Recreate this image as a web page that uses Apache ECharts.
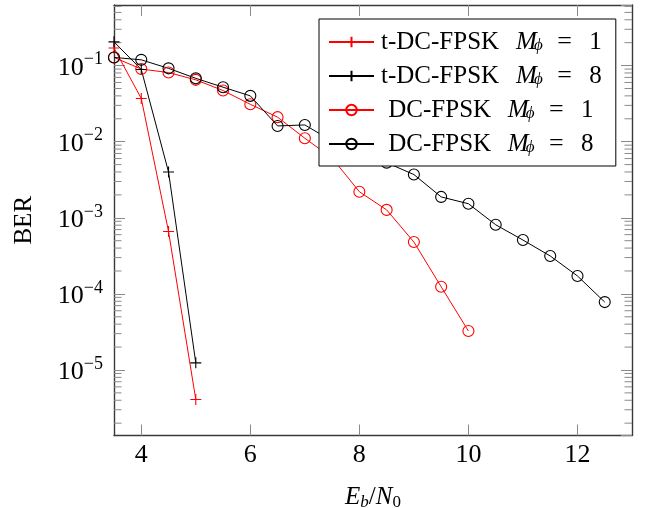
<!DOCTYPE html>
<html>
<head>
<meta charset="utf-8">
<script src="https://cdn.jsdelivr.net/npm/echarts@6/dist/echarts.min.js"></script>
<style>html,body{margin:0;padding:0;background:#fff}#c{width:645px;height:508px}</style>
</head>
<body>
<div id="c"></div>
<script>
// ---- data ----
const tdcX = [3.5, 4, 4.5, 5];
const tdcM1 = [0.17, 0.037, 6.6e-4, 4.1e-6];
const tdcM8 = [0.205, 0.089, 4.0e-3, 1.24e-5];
const dc1X = [3.5, 4, 4.5, 5, 5.5, 6, 6.5, 7, 7.5, 8, 8.5, 9, 9.5, 10];
const dcM1 = [0.128, 0.090, 0.081, 0.065, 0.047, 0.031, 0.021, 0.0111, 6.1e-3, 2.2e-3, 1.27e-3, 4.8e-4, 1.24e-4, 3.25e-5];
const dc8X = [3.5, 4, 4.5, 5, 5.5, 6, 6.5, 7, 7.5, 8, 8.5, 9, 9.5, 10, 10.5, 11, 11.5, 12, 12.5];
const dcM8 = [0.128, 0.119, 0.092, 0.068, 0.052, 0.040, 0.0161, 0.0166, 0.0102, 6.7e-3, 5.3e-3, 3.7e-3, 1.88e-3, 1.53e-3, 8.1e-4, 5.1e-4, 3.15e-4, 1.72e-4, 7.8e-5];
const xTicks = [4, 6, 8, 10, 12];
const xMin = 3.5, xMax = 13;
const yMin = 1.377e-6, yMax = 0.6255;
const decades = [-6, -5, -4, -3, -2, -1];
const minorMult = [2, 3, 4, 5, 6, 7, 8, 9];

const minorVals = [];
decades.forEach(d => minorMult.forEach(m => {
  const v = m * Math.pow(10, d);
  if (v > yMin && v < yMax) minorVals.push(v);
}));

const FONT = 'Liberation Serif';
const frame = '#3a3a3a';
const tickCol = '#8a8a8a';

const zip = (xs, ys) => xs.map((x, i) => [x, ys[i]]);
const plus = 'path://M0,5L10,5M5,0L5,10';

function mkSeries(name, xs, ys, color, isCircle) {
  return {
    name, type: 'line', data: zip(xs, ys),
    symbol: isCircle ? 'circle' : plus,
    symbolSize: 11,
    lineStyle: { color, width: 1 },
    itemStyle: isCircle ? { color: 'rgba(0,0,0,0)', borderColor: color, borderWidth: 1.1 }
                        : { color, borderColor: color, borderWidth: 1.1 },
    emphasis: { disabled: true },
    z: 3
  };
}

const LF = 25;
const legendRich = {
  p: { width: 2 },
  a: { width: 135 },
  dp: { width: 7.3 },
  d: { width: 119.4 },
  m: { fontStyle: 'italic', width: 18 },
  s: { fontStyle: 'italic', fontSize: 17, lineHeight: 12, verticalAlign: 'bottom', width: 23.3 },
  e: { width: 32, fontSize: 26 },
  o: {}
};
const legendText = {
  tdc1: '{p|}{a|t-DC-FPSK}{m|M}{s|ϕ}{e|=}{o|1}',
  tdc8: '{p|}{a|t-DC-FPSK}{m|M}{s|ϕ}{e|=}{o|8}',
  dc1: '{p|}{dp|}{d|DC-FPSK}{m|M}{s|ϕ}{e|=}{o|1}',
  dc8: '{p|}{dp|}{d|DC-FPSK}{m|M}{s|ϕ}{e|=}{o|8}'
};

function yLabel(v) {
  const l = Math.log10(v);
  const r = Math.round(l);
  if (Math.abs(l - r) > 1e-6) return '';
  return '{b|10}{s|−' + Math.abs(r) + '}';
}

const chart = echarts.init(document.getElementById('c'), null, { renderer: 'canvas' });
const axisCommonX = {
  type: 'value', min: xMin, max: xMax,
  axisLine: { show: true, onZero: false, lineStyle: { color: frame, width: 1.4 } },
  axisTick: { show: true, inside: true, length: 11, customValues: xTicks, lineStyle: { color: tickCol, width: 1 } },
  splitLine: { show: false }
};
const axisCommonY = {
  type: 'log', min: yMin, max: yMax, logBase: 10,
  axisLine: { show: true, onZero: false, lineStyle: { color: frame, width: 1.4 } },
  axisTick: { show: true, inside: true, length: 11, lineStyle: { color: tickCol, width: 1 } },
  splitLine: { show: false }
};

chart.setOption({
  animation: false,
  backgroundColor: '#fff',
  grid: { left: 114, right: 13, top: 5, bottom: 72.5, containLabel: false, outerBoundsMode: 'none' },
  xAxis: [
    Object.assign({}, axisCommonX, {
      position: 'bottom',
      axisLabel: {
        customValues: xTicks, margin: 7,
        fontFamily: FONT, fontSize: 26, color: '#000'
      },
      name: '{i|E}{sb|b}{r|/}{i|N}{s0|0}',
      nameLocation: 'middle', nameGap: 48,
      nameTextStyle: {
        fontFamily: FONT, fontSize: 25, color: '#000', lineHeight: 28,
        rich: {
          i: { fontFamily: FONT, fontSize: 25, fontStyle: 'italic', lineHeight: 28 },
          r: { fontFamily: FONT, fontSize: 25, lineHeight: 28 },
          sb: { fontFamily: FONT, fontSize: 17, fontStyle: 'italic', lineHeight: 12, verticalAlign: 'bottom' },
          s0: { fontFamily: FONT, fontSize: 17, lineHeight: 12, verticalAlign: 'bottom' }
        }
      }
    }),
    Object.assign({}, axisCommonX, { position: 'top', axisLabel: { show: false } })
  ],
  yAxis: [
    Object.assign({}, axisCommonY, {
      position: 'left',
      axisLabel: {
        margin: 11, formatter: yLabel, showMinLabel: false, showMaxLabel: false,
        rich: {
          b: { fontFamily: FONT, fontSize: 26, lineHeight: 30, color: '#000', padding: [5, 0, 0, 0] },
          s: { fontFamily: FONT, fontSize: 18, lineHeight: 16, verticalAlign: 'top', color: '#000' }
        }
      },
      name: 'BER', nameLocation: 'middle', nameGap: 77,
      nameTextStyle: { fontFamily: FONT, fontSize: 25, color: '#000' }
    }),
    Object.assign({}, axisCommonY, { position: 'right', axisLabel: { show: false } })
  ],
  legend: {
    data: ['tdc1', 'tdc8', 'dc1', 'dc8'],
    orient: 'vertical', left: 319, top: 19,
    itemWidth: 45, itemHeight: 13, itemGap: 8,
    padding: [10, 14, 9, 9],
    borderColor: '#000', borderWidth: 1, borderRadius: 0,
    backgroundColor: '#fff',
    selectedMode: false,
    formatter: n => legendText[n],
    textStyle: {
      fontFamily: FONT, fontSize: LF, lineHeight: 24, color: '#000',
      rich: legendRich
    },
    z: 10
  },
  series: [
    {
      type: 'custom', name: 'minor', silent: true, clip: false, z: 1,
      data: minorVals.map(v => [xMin, v]),
      renderItem: (params, api) => {
        const v = api.value(1);
        const l = api.coord([xMin, v]);
        const r = api.coord([xMax, v]);
        return {
          type: 'group', children: [
            { type: 'line', shape: { x1: l[0], y1: l[1], x2: l[0] + 7.5, y2: l[1] }, style: { stroke: tickCol, lineWidth: 1 } },
            { type: 'line', shape: { x1: r[0], y1: r[1], x2: r[0] - 7.5, y2: r[1] }, style: { stroke: tickCol, lineWidth: 1 } }
          ]
        };
      }
    },
    mkSeries('tdc1', tdcX, tdcM1, '#ff0000', false),
    mkSeries('tdc8', tdcX, tdcM8, '#000000', false),
    mkSeries('dc1', dc1X, dcM1, '#ff0000', true),
    mkSeries('dc8', dc8X, dcM8, '#000000', true)
  ]
});
</script>
</body>
</html>
